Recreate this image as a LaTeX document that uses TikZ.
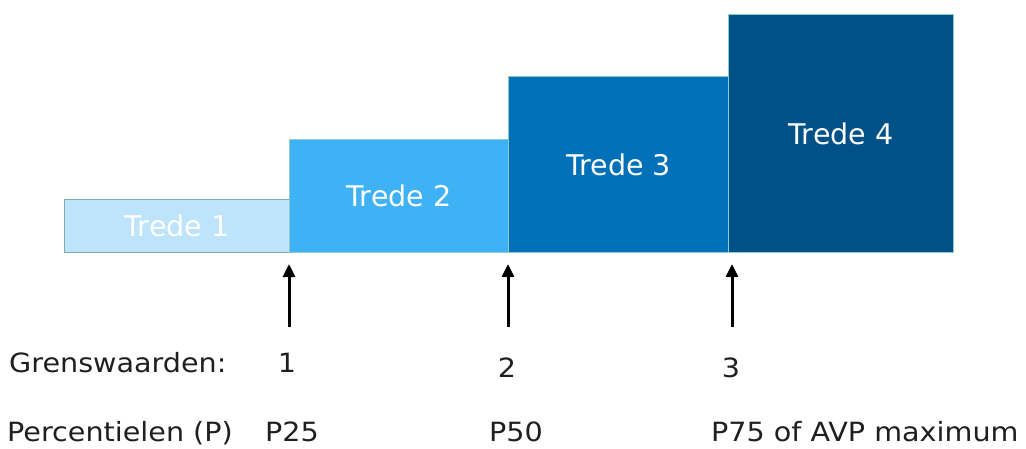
\documentclass[tikz,border=0pt]{standalone}
\usepackage{fontspec}
\setmainfont{DejaVu Sans}
\newfontfamily\widefont[FakeStretch=1.08]{DejaVu Sans}
\usetikzlibrary{arrows.meta}
\definecolor{tone1}{HTML}{BDE4FA}
\definecolor{tone2}{HTML}{3FB2F6}
\definecolor{tone3}{HTML}{0070B8}
\definecolor{tone4}{HTML}{005187}
\definecolor{edge1}{HTML}{7BAFA3}
\definecolor{edgeL}{HTML}{8CCBC6}
\tikzset{
  x=1pt, y=-1pt,
  stepbox/.style={rectangle, anchor=south west, inner sep=0pt, line width=1pt,
    font=\fontsize{28.5}{34}\selectfont, text=white},
  lbl/.style={anchor=base west, inner sep=0pt, font=\widefont\fontsize{26.5}{31}\selectfont, text=black!88},
  num/.style={anchor=base, inner sep=0pt, font=\widefont\fontsize{26.5}{31}\selectfont, text=black!88},
  uparrow/.style={line width=3pt, -{Triangle[length=13pt,width=12pt]}}
}
\begin{document}
\begin{tikzpicture}
\useasboundingbox (0,0) rectangle (1026,448);
\node[stepbox, fill=tone1, draw=edge1, minimum width=225pt, minimum height=53pt] (t1) at (64,253) {Trede 1};
\node[stepbox, fill=tone4, draw=edgeL, minimum width=225pt, minimum height=238pt] (t4) at (728,253) {Trede 4};
\node[stepbox, fill=tone3, draw=edgeL, minimum width=220pt, minimum height=176pt] (t3) at (508,253) {Trede 3};
\node[stepbox, fill=tone2, draw=edgeL, minimum width=219pt, minimum height=113pt] (t2) at (289,253) {Trede 2};

\coordinate (a1s) at (289,327);
\coordinate (a1e) at (289,264);
\coordinate (a2s) at (508,327);
\coordinate (a2e) at (508,264);
\coordinate (a3s) at (732,327);
\coordinate (a3e) at (732,264);
\draw[uparrow] (a1s) -- (a1e);
\draw[uparrow] (a2s) -- (a2e);
\draw[uparrow] (a3s) -- (a3e);

\node[lbl] (gw) at (9,372) {Grenswaarden:};
\node[num] (g1) at (287,372) {1};
\node[num] (g2) at (507,377) {2};
\node[num] (g3) at (731,377) {3};

\node[lbl] (pc) at (7,441) {Percentielen (P)};
\node[lbl] (p25) at (265,441) {P25};
\node[lbl] (p50) at (489,441) {P50};
\node[lbl] (p75) at (711,441) {P75 of AVP maximum};
\end{tikzpicture}
\end{document}
